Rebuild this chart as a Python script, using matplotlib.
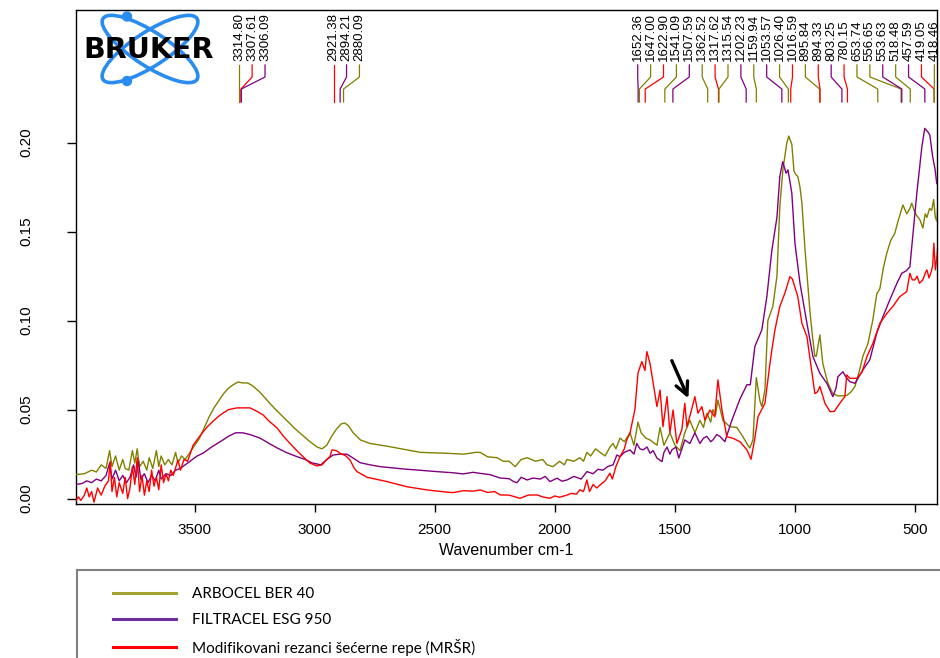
import matplotlib
matplotlib.use("Agg")
import matplotlib.pyplot as plt
from matplotlib.patches import Ellipse, Rectangle, Circle
from matplotlib.lines import Line2D
import matplotlib.transforms as mtransforms

# ---------------- data ----------------
series_names = ["ARBOCEL BER 40", "FILTRACEL ESG 950", "Modifikovani rezanci šećerne repe (MRŠR)"]
series_colors = ["#808000", "#800080", "#ff0000"]
legend_colors = ["#a3a332", "#7030a0", "#ff0000"]

arb_wn = [3995, 3960, 3930, 3910, 3890, 3870, 3855, 3845, 3830, 3815, 3800, 3790, 3775, 3760, 3750,
          3740, 3730, 3715, 3700, 3690, 3675, 3660, 3650, 3640, 3625, 3610, 3595, 3580, 3570, 3555,
          3540, 3520, 3500, 3480, 3460, 3440, 3420, 3400, 3380, 3360, 3340, 3320, 3300, 3280, 3260,
          3230, 3200, 3170, 3140, 3110, 3080, 3050, 3020, 2990, 2970, 2950, 2930, 2910, 2890, 2875,
          2860, 2840, 2810, 2770, 2700, 2620, 2560, 2450, 2380, 2330, 2310, 2280, 2240, 2215, 2190,
          2165, 2140, 2115, 2080, 2050, 2032, 2007, 1980, 1960, 1949, 1920, 1895, 1880, 1866, 1850,
          1830, 1811, 1790, 1770, 1757, 1745, 1728, 1710, 1686, 1670, 1653, 1640, 1620, 1603, 1574,
          1561, 1545, 1520, 1499, 1478, 1458, 1437, 1416, 1395, 1380, 1366, 1350, 1341, 1330, 1320,
          1299, 1270, 1241, 1216, 1195, 1187, 1174, 1160, 1145, 1137, 1124, 1112, 1091, 1074, 1062,
          1049, 1033, 1025, 1012, 1003, 995, 987, 978, 970, 957, 937, 925, 916, 910, 895,
          883, 862, 841, 820, 800, 783, 765, 749, 730, 716, 695, 675, 658, 645, 630,
          616, 600, 583, 570, 549, 533, 520, 512, 500, 491, 478, 466, 456, 449, 438,
          429, 421, 414, 408, 402]
arb_abs = [0.0135, 0.014, 0.016, 0.015, 0.019, 0.017, 0.027, 0.018, 0.024, 0.016, 0.022, 0.017, 0.016, 0.027, 0.020,
           0.028, 0.018, 0.021, 0.016, 0.023, 0.017, 0.027, 0.018, 0.024, 0.019, 0.022, 0.019, 0.026, 0.020, 0.024,
           0.022, 0.026, 0.030, 0.034, 0.040, 0.046, 0.051, 0.055, 0.059, 0.062, 0.064, 0.0655, 0.065, 0.065, 0.0635,
           0.060, 0.0555, 0.051, 0.047, 0.043, 0.039, 0.0355, 0.032, 0.029, 0.028, 0.030, 0.035, 0.039, 0.042, 0.0425,
           0.041, 0.037, 0.033, 0.031, 0.0295, 0.0275, 0.026, 0.0255, 0.025, 0.026, 0.026, 0.0235, 0.023, 0.021, 0.021,
           0.018, 0.022, 0.023, 0.021, 0.022, 0.019, 0.018, 0.021, 0.019, 0.022, 0.021, 0.023, 0.021, 0.026, 0.024,
           0.028, 0.026, 0.024, 0.029, 0.031, 0.028, 0.034, 0.032, 0.037, 0.030, 0.043, 0.037, 0.034, 0.033, 0.030,
           0.040, 0.030, 0.037, 0.030, 0.027, 0.037, 0.044, 0.037, 0.044, 0.040, 0.048, 0.043, 0.050, 0.047, 0.0554,
           0.044, 0.0404, 0.040, 0.0348, 0.030, 0.0285, 0.033, 0.068, 0.055, 0.0517, 0.061, 0.100, 0.108, 0.125, 0.164,
           0.185, 0.1997, 0.2037, 0.199, 0.184, 0.182, 0.181, 0.175, 0.166, 0.140, 0.106, 0.090, 0.080, 0.080, 0.092,
           0.076, 0.065, 0.059, 0.0577, 0.0578, 0.058, 0.060, 0.063, 0.072, 0.080, 0.087, 0.100, 0.115, 0.118, 0.130,
           0.138, 0.145, 0.149, 0.1556, 0.165, 0.160, 0.163, 0.166, 0.161, 0.159, 0.1566, 0.152, 0.160, 0.158, 0.163,
           0.162, 0.168, 0.158, 0.156, 0.168]

fil_wn = [3995, 3970, 3950, 3930, 3910, 3890, 3870, 3855, 3845, 3830, 3815, 3800, 3785, 3770, 3755,
          3745, 3735, 3725, 3710, 3695, 3680, 3665, 3650, 3640, 3620, 3600, 3580, 3560, 3540, 3520,
          3490, 3465, 3430, 3394, 3360, 3330, 3300, 3270, 3228, 3190, 3157, 3120, 3074, 3040, 3010,
          2991, 2975, 2950, 2924, 2895, 2866, 2840, 2811, 2770, 2728, 2632, 2550, 2491, 2420, 2382,
          2340, 2311, 2270, 2228, 2190, 2170, 2157, 2140, 2115, 2090, 2060, 2040, 2020, 1990, 1970,
          1949, 1920, 1890, 1866, 1840, 1820, 1799, 1780, 1757, 1741, 1728, 1710, 1686, 1670, 1658,
          1645, 1632, 1615, 1603, 1590, 1574, 1553, 1545, 1532, 1520, 1512, 1495, 1483, 1470, 1458,
          1437, 1416, 1395, 1380, 1366, 1350, 1341, 1325, 1312, 1291, 1262, 1228, 1210, 1199, 1185,
          1166, 1137, 1116, 1095, 1074, 1062, 1050, 1036, 1028, 1012, 999, 978, 949, 924, 895,
          866, 841, 828, 820, 799, 785, 770, 749, 730, 716, 687, 658, 633, 604, 574,
          554, 535, 520, 508, 491, 470, 458, 445, 437, 425, 415, 408]
fil_abs = [0.008, 0.0085, 0.010, 0.009, 0.011, 0.010, 0.013, 0.020, 0.011, 0.016, 0.010, 0.013, 0.009, 0.012, 0.019,
           0.012, 0.021, 0.011, 0.014, 0.009, 0.013, 0.010, 0.016, 0.011, 0.014, 0.013, 0.016, 0.017, 0.019, 0.021,
           0.024, 0.0256, 0.029, 0.032, 0.035, 0.037, 0.037, 0.036, 0.034, 0.031, 0.0285, 0.026, 0.0236, 0.022, 0.020,
           0.0195, 0.019, 0.022, 0.0245, 0.025, 0.025, 0.0228, 0.0202, 0.019, 0.018, 0.0167, 0.0158, 0.0152, 0.0145, 0.0139,
           0.0148, 0.0142, 0.0135, 0.0116, 0.0112, 0.0095, 0.009, 0.012, 0.0105, 0.0116, 0.011, 0.0125, 0.0096, 0.0115, 0.0098,
           0.0105, 0.0125, 0.011, 0.0152, 0.014, 0.0165, 0.016, 0.018, 0.019, 0.0245, 0.0236, 0.026, 0.0274, 0.025, 0.031,
           0.028, 0.0274, 0.029, 0.0255, 0.027, 0.0228, 0.0208, 0.026, 0.029, 0.025, 0.0274, 0.029, 0.0228, 0.028, 0.033,
           0.031, 0.037, 0.031, 0.034, 0.035, 0.032, 0.033, 0.036, 0.035, 0.032, 0.044, 0.056, 0.061, 0.064, 0.064,
           0.0855, 0.0948, 0.1135, 0.1397, 0.158, 0.181, 0.1893, 0.1828, 0.1847, 0.1716, 0.1435, 0.121, 0.0985, 0.0798, 0.0704,
           0.0648, 0.0573, 0.062, 0.0685, 0.0713, 0.068, 0.0657, 0.0648, 0.069, 0.0723, 0.078, 0.093, 0.102, 0.1116, 0.121,
           0.1266, 0.128, 0.1303, 0.1472, 0.1716, 0.1978, 0.208, 0.206, 0.2043, 0.192, 0.185, 0.177]

mrs_wn = [3995, 3985, 3975, 3960, 3950, 3940, 3930, 3920, 3905, 3890, 3875, 3860, 3852, 3845, 3835,
          3825, 3815, 3800, 3790, 3780, 3770, 3760, 3750, 3740, 3730, 3720, 3710, 3700, 3690, 3680,
          3670, 3660, 3650, 3640, 3630, 3620, 3610, 3600, 3590, 3570, 3560, 3545, 3530, 3507, 3480,
          3448, 3420, 3394, 3360, 3324, 3290, 3270, 3240, 3215, 3190, 3157, 3130, 3103, 3075, 3049,
          3020, 2991, 2970, 2950, 2937, 2928, 2910, 2895, 2870, 2853, 2835, 2824, 2782, 2699, 2616,
          2532, 2460, 2424, 2380, 2340, 2311, 2280, 2250, 2228, 2190, 2160, 2145, 2110, 2074, 2050,
          2020, 2000, 1980, 1949, 1930, 1910, 1895, 1880, 1866, 1855, 1840, 1825, 1811, 1790, 1770,
          1760, 1745, 1728, 1710, 1700, 1686, 1666, 1653, 1637, 1624, 1616, 1603, 1590, 1574, 1561,
          1549, 1532, 1520, 1507, 1491, 1470, 1458, 1449, 1430, 1416, 1403, 1387, 1374, 1353, 1333,
          1320, 1303, 1283, 1257, 1228, 1199, 1182, 1166, 1153, 1124, 1103, 1091, 1082, 1062, 1041,
          1020, 1010, 987, 970, 949, 928, 916, 905, 895, 874, 853, 835, 812, 791, 783,
          770, 741, 720, 699, 674, 645, 616, 591, 562, 533, 520, 510, 499, 490, 480,
          466, 455, 449, 440, 430, 425, 420, 414, 408, 402]
mrs_abs = [-0.001, 0.001, -0.001, 0.002, 0.006, 0.001, 0.004, -0.002, 0.006, 0.002, 0.007, 0.010, 0.021, 0.004, 0.012,
           0.001, 0.009, 0.003, 0.012, 0.000, 0.006, 0.018, 0.008, 0.023, 0.004, 0.013, 0.002, 0.010, 0.004, 0.016,
           0.007, 0.012, 0.005, 0.019, 0.009, 0.014, 0.010, 0.016, 0.013, 0.0217, 0.016, 0.022, 0.021, 0.030, 0.035,
           0.0404, 0.044, 0.047, 0.050, 0.051, 0.051, 0.051, 0.049, 0.047, 0.0435, 0.0397, 0.035, 0.031, 0.027, 0.0236,
           0.020, 0.0184, 0.019, 0.022, 0.0236, 0.0274, 0.027, 0.0255, 0.024, 0.0217, 0.017, 0.0152, 0.012, 0.0096, 0.0067,
           0.0049, 0.0038, 0.0034, 0.0045, 0.0042, 0.0049, 0.0035, 0.004, 0.0021, 0.002, 0.0008, 0.0002, 0.002, 0.0021, 0.001,
           0.0002, 0.0015, 0.0008, 0.002, 0.003, 0.0025, 0.005, 0.004, 0.0105, 0.004, 0.008, 0.006, 0.0077, 0.010, 0.0143,
           0.011, 0.018, 0.0236, 0.028, 0.033, 0.037, 0.050, 0.0706, 0.077, 0.072, 0.0826, 0.076, 0.065, 0.0517, 0.061,
           0.0404, 0.0573, 0.037, 0.0498, 0.031, 0.039, 0.0536, 0.0404, 0.0498, 0.0573, 0.048, 0.0517, 0.044, 0.0498, 0.046,
           0.0667, 0.0498, 0.0348, 0.0339, 0.032, 0.0274, 0.0221, 0.034, 0.046, 0.0536, 0.0761, 0.0873, 0.095, 0.108, 0.1154,
           0.1247, 0.1235, 0.1135, 0.0985, 0.091, 0.0704, 0.059, 0.060, 0.063, 0.0536, 0.0489, 0.049, 0.0536, 0.0573, 0.0695,
           0.0676, 0.0676, 0.071, 0.0798, 0.0873, 0.0985, 0.104, 0.108, 0.1135, 0.1163, 0.1266, 0.1229, 0.1229, 0.125, 0.121,
           0.1229, 0.127, 0.1285, 0.124, 0.128, 0.131, 0.1435, 0.1285, 0.135, 0.145]

# picked peaks: wavenumber and which series (0 = ARBOCEL, 1 = FILTRACEL, 2 = MRSR)
peak_wn = [3314.80, 3307.61, 3306.09, 2921.38, 2894.21, 2880.09,
           1652.36, 1647.00, 1622.90, 1541.09, 1507.59, 1362.52, 1317.62, 1315.54,
           1202.23, 1159.94, 1053.57, 1026.40, 1016.59, 895.84, 894.33, 803.25, 780.15,
           653.74, 556.65, 553.63, 518.48, 457.59, 419.05, 418.46]
peak_series = [0, 2, 1, 2, 1, 0,
               1, 0, 2, 0, 1, 0, 2, 0,
               1, 0, 1, 0, 2, 0, 2, 1, 2,
               0, 0, 1, 0, 1, 2, 0]

x_ticks = [3500, 3000, 2500, 2000, 1500, 1000, 500]
y_ticks = [0.00, 0.05, 0.10, 0.15, 0.20]
x_label = "Wavenumber cm-1"

arrow_tip = (1443, 0.0564)
arrow_tail = (1512, 0.0775)

# ---------------- figure ----------------
W, H = 940, 658
fig = plt.figure(figsize=(W / 100, H / 100), dpi=100)
plt.rcParams['font.family'] = ['Liberation Sans', 'DejaVu Sans']

ax_l, ax_r, ax_t, ax_b = 76, 937, 10, 504
ax = fig.add_axes([ax_l / W, (H - ax_b) / H, (ax_r - ax_l) / W, (ax_b - ax_t) / H])
ax.set_xlim(3995, 407)
ax.set_ylim(-0.003, 0.2745)

for wn, ab, c in zip([arb_wn, fil_wn, mrs_wn], [arb_abs, fil_abs, mrs_abs], series_colors):
    ax.plot(wn, ab, color=c, lw=1.0, zorder=3)

ax.set_xticks(x_ticks)
ax.set_xticklabels([str(t) for t in x_ticks], fontsize=11)
ax.set_yticks(y_ticks)
ax.set_yticklabels(["%.2f" % t for t in y_ticks], fontsize=11, rotation=90, va='center')
ax.tick_params(axis='x', direction='out', length=6, width=1, pad=8)
ax.tick_params(axis='y', direction='out', length=6.5, width=1, pad=24)
ax.set_xlabel(x_label, fontsize=11.5, labelpad=4)
for s in ax.spines.values():
    s.set_linewidth(1.0)
    s.set_color('black')

# peak labels (spread left-to-right without overlap)
gap = 53.75  # cm-1 between label columns
min_wn = 418.0
pos = list(peak_wn)
for i in range(1, len(pos)):
    pos[i] = min(pos[i], pos[i - 1] - gap)
pos[-1] = max(pos[-1], min_wn)
for i in range(len(pos) - 2, -1, -1):
    pos[i] = max(pos[i], pos[i + 1] + gap)

trans = mtransforms.blended_transform_factory(ax.transData, ax.transAxes)
y_top, y_b1, y_b2, y_bot, y_txt = 0.8887, 0.8644, 0.840, 0.8138, 0.8968
for wn, lp, si in zip(peak_wn, pos, peak_series):
    ax.plot([lp, lp, wn, wn], [y_top, y_b1, y_b2, y_bot], color=series_colors[si],
            lw=0.9, transform=trans, clip_on=False, zorder=4)
    ax.text(lp, y_txt, "%.2f" % wn, rotation=90, ha='center', va='bottom',
            fontsize=9.5, transform=trans, color='black')

# arrow
ax.annotate('', xy=arrow_tip, xytext=arrow_tail,
            arrowprops=dict(arrowstyle='->,head_length=0.9,head_width=0.45', lw=2.4,
                            color='black', shrinkA=0, shrinkB=0), zorder=6)

# ---------------- logo ----------------
lg = fig.add_axes([75 / W, (H - 92) / H, 150 / W, 84 / H])
lg.set_xlim(75, 225)
lg.set_ylim(92, 8)
lg.axis('off')
blue = '#2a8cf0'
for ang in (33, -33):
    lg.add_patch(Ellipse((150, 49), 112, 34, angle=ang, fill=False, ec=blue, lw=2.6))
lg.add_patch(Circle((127, 16.5), 4.5, color=blue))
lg.add_patch(Circle((127, 81), 4.5, color=blue))
lg.text(149, 50, "BRUKER", ha='center', va='center', fontsize=20.5, fontweight='heavy',
        family='DejaVu Sans', color='black', zorder=5)

# ---------------- legend box ----------------
fig.add_artist(Rectangle((77 / W, -0.05), 1.0, (H - 570) / H + 0.05, transform=fig.transFigure,
                         fill=False, ec='#808080', lw=1.5))
handles = [Line2D([], [], color=c, lw=2.2) for c in legend_colors]
fig.legend(handles, series_names, loc='upper left', bbox_to_anchor=(113 / W, 1 - 587 / H),
           frameon=False, borderpad=0, borderaxespad=0, handlelength=4.1, handletextpad=1.1,
           labelspacing=0.78, prop={'family': ['Lato', 'DejaVu Sans'], 'size': 11})

fig.savefig("out.png", dpi=100)
